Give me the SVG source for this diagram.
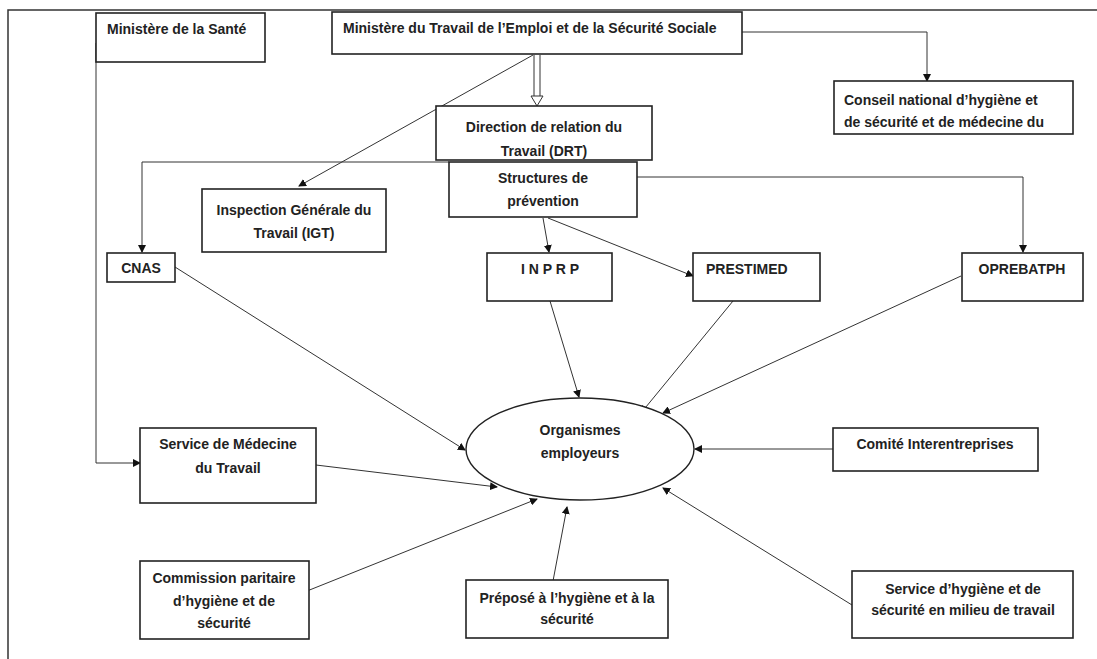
<svg xmlns="http://www.w3.org/2000/svg" width="1097" height="659" viewBox="0 0 1097 659">
<style>
.box{fill:#fff;stroke:#222;stroke-width:1.6}
.t{font-family:"Liberation Sans",Arial,sans-serif;font-weight:bold;font-size:14px;fill:#222}
.c{text-anchor:middle}
.ln{fill:none;stroke:#333;stroke-width:1}
.ar{marker-end:url(#ah)}
</style>
<defs>
<marker id="ah" markerWidth="8" markerHeight="8" refX="7" refY="4" orient="auto" markerUnits="userSpaceOnUse">
<path d="M0,0 L8,4 L0,8 z" fill="#111"/>
</marker>
</defs>
<rect width="1097" height="659" fill="#fff"/>
<g id="frame">
<path d="M8,659 L8,10 L1097,10" fill="none" stroke="#333" stroke-width="1.5"/>
</g>
<g id="connectors">
<path class="ln ar" d="M96,43 L96,463 L140,463"/>
<path class="ln ar" d="M741,32 L927,32 L927,81"/>
<path class="ln ar" d="M533,55 L299,186"/>
<path d="M534,55 L534,96 M540,55 L540,96" fill="none" stroke="#333" stroke-width="1"/>
<path d="M531,96 L543,96 L537,106 z" fill="#fff" stroke="#333" stroke-width="1"/>
<path class="ln ar" d="M449,162 L142,162 L142,252"/>
<path class="ln ar" d="M637,177 L1023,177 L1023,252"/>
<path class="ln ar" d="M543,218 L549,252"/>
<path class="ln ar" d="M548,218 L693,276"/>
<path class="ln ar" d="M550,301 L579,397"/>
<path class="ln ar" d="M733,301 L641,413"/>
<path class="ln ar" d="M961,276 L663,413"/>
<path class="ln ar" d="M175,267 L465,450"/>
<path class="ln ar" d="M316,465 L497,487"/>
<path class="ln ar" d="M287,599 L537,499"/>
<path class="ln ar" d="M553,581 L567,507"/>
<path class="ln ar" d="M852,605 L663,488"/>
<path class="ln ar" d="M833,449 L695,449"/>
</g>
<g id="sante">
<rect class="box" x="96" y="13" width="169" height="49"/>
<text class="t" x="107" y="34">Ministère de la Santé</text>
</g>
<g id="travail">
<rect class="box" x="332" y="12" width="410" height="42"/>
<text class="t" x="343" y="33">Ministère du Travail de l’Emploi et de la Sécurité Sociale</text>
</g>
<g id="conseil">
<rect class="box" x="834" y="81" width="239" height="53"/>
<text class="t" x="844" y="105">Conseil national d’hygiène et</text>
<text class="t" x="844" y="127">de sécurité et de médecine du</text>
</g>
<g id="drt">
<rect class="box" x="436" y="106" width="216" height="54"/>
<text class="t c" x="544" y="132">Direction de relation du</text>
<text class="t c" x="544" y="156">Travail (DRT)</text>
</g>
<g id="structures">
<rect class="box" x="449" y="162" width="188" height="55"/>
<text class="t c" x="543" y="183">Structures de</text>
<text class="t c" x="543" y="206">prévention</text>
</g>
<g id="igt">
<rect class="box" x="202" y="189" width="184" height="63"/>
<text class="t c" x="294" y="215">Inspection Générale du</text>
<text class="t c" x="294" y="238">Travail (IGT)</text>
</g>
<g id="cnas">
<rect class="box" x="107" y="253" width="68" height="29"/>
<text class="t c" x="141" y="273">CNAS</text>
</g>
<g id="inprp">
<rect class="box" x="487" y="253" width="125" height="48"/>
<text class="t" x="521" y="274">I N P R P</text>
</g>
<g id="prestimed">
<rect class="box" x="693" y="253" width="127" height="48"/>
<text class="t" x="706" y="274">PRESTIMED</text>
</g>
<g id="oprebatph">
<rect class="box" x="962" y="253" width="121" height="48"/>
<text class="t c" x="1022" y="274">OPREBATPH</text>
</g>
<g id="organismes">
<ellipse cx="580" cy="449" rx="114" ry="51" fill="#fff" stroke="#222" stroke-width="1.4"/>
<text class="t c" x="580" y="435">Organismes</text>
<text class="t c" x="580" y="458">employeurs</text>
</g>
<g id="medecine">
<rect class="box" x="140" y="428" width="176" height="75"/>
<text class="t c" x="228" y="449">Service de Médecine</text>
<text class="t c" x="228" y="473">du Travail</text>
</g>
<g id="comite">
<rect class="box" x="833" y="428" width="205" height="43"/>
<text class="t c" x="935" y="449">Comité Interentreprises</text>
</g>
<g id="commission">
<rect class="box" x="140" y="561" width="169" height="78"/>
<text class="t c" x="224" y="583">Commission paritaire</text>
<text class="t c" x="224" y="606">d’hygiène et de</text>
<text class="t c" x="224" y="628">sécurité</text>
</g>
<g id="prepose">
<rect class="box" x="466" y="580" width="202" height="58"/>
<text class="t c" x="567" y="603">Préposé à l’hygiène et à la</text>
<text class="t c" x="567" y="624">sécurité</text>
</g>
<g id="hygiene">
<rect class="box" x="852" y="571" width="221" height="67"/>
<text class="t c" x="963" y="594">Service d’hygiène et de</text>
<text class="t c" x="963" y="615">sécurité en milieu de travail</text>
</g>
</svg>
